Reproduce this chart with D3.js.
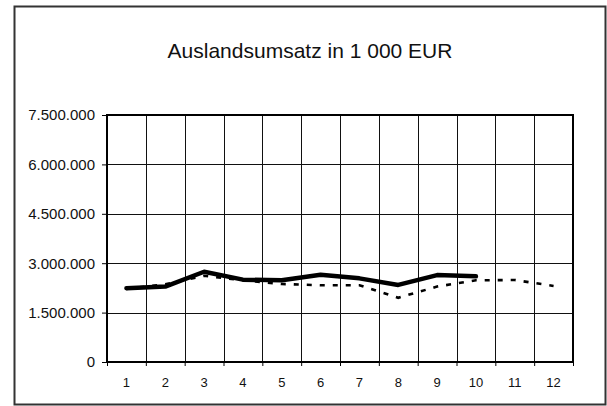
<!DOCTYPE html>
<html>
<head>
<meta charset="utf-8">
<script src="https://cdn.jsdelivr.net/npm/d3@7"></script>
<style>
  body { margin: 0; background: #fff; }
  svg { display: block; font-family: "Liberation Sans", Arial, sans-serif; }
</style>
</head>
<body>
<div id="chart"></div>
<script>
// data
var months = [1, 2, 3, 4, 5, 6, 7, 8, 9, 10, 11, 12];
var currentYear = [2240000, 2290000, 2740000, 2500000, 2480000, 2650000, 2540000, 2340000, 2640000, 2600000];
var previousYear = [2220000, 2360000, 2620000, 2480000, 2370000, 2330000, 2330000, 1950000, 2290000, 2480000, 2490000, 2310000];
var yTicks = [0, 1500000, 3000000, 4500000, 6000000, 7500000];
var title = 'Auslandsumsatz in 1 000 EUR';

var width = 607,
    height = 406,
    plotLeft = 107,
    plotRight = 573,
    plotTop = 115,
    plotBottom = 362;

var de = d3.formatLocale({decimal: ',', thousands: '.', grouping: [3], currency: ['', ' €']});
var fmt = de.format(',d');

var svg = d3.select('#chart').append('svg')
    .attr('width', width)
    .attr('height', height);

// outer frame
svg.append('rect')
    .attr('x', 14.5)
    .attr('y', 6.5)
    .attr('width', 591)
    .attr('height', 398)
    .attr('fill', 'none')
    .attr('stroke', '#333')
    .attr('stroke-width', 2);

svg.append('text')
    .attr('x', 310)
    .attr('y', 58)
    .attr('text-anchor', 'middle')
    .style('font-size', '21px')
    .attr('fill', '#111')
    .text(title);

var xScale = d3.scaleBand()
    .domain(months)
    .range([plotLeft, plotRight])
    .padding(0);

var yScale = d3.scaleLinear()
    .domain([0, 7500000])
    .range([plotBottom, plotTop]);

var bw = xScale.bandwidth();

// grid
var grid = svg.append('g');
grid.selectAll('.hgrid')
    .data(yTicks)
    .enter()
    .append('line')
    .attr('x1', plotLeft)
    .attr('x2', plotRight)
    .attr('y1', function(d) { return Math.round(yScale(d)) + 0.5; })
    .attr('y2', function(d) { return Math.round(yScale(d)) + 0.5; })
    .attr('stroke', '#111')
    .attr('stroke-width', 1);

grid.selectAll('.vgrid')
    .data(months.slice(1))
    .enter()
    .append('line')
    .attr('x1', function(d) { return Math.round(xScale(d)) + 0.5; })
    .attr('x2', function(d) { return Math.round(xScale(d)) + 0.5; })
    .attr('y1', plotTop)
    .attr('y2', plotBottom)
    .attr('stroke', '#111')
    .attr('stroke-width', 1);

// plot frame
svg.append('rect')
    .attr('x', plotLeft)
    .attr('y', plotTop)
    .attr('width', plotRight - plotLeft)
    .attr('height', plotBottom - plotTop)
    .attr('fill', 'none')
    .attr('stroke', '#000')
    .attr('stroke-width', 2);

// axes
var yAxis = d3.axisLeft(yScale)
    .tickValues(yTicks)
    .tickFormat(fmt)
    .tickSize(5)
    .tickPadding(7);

var yy = svg.append('g')
    .attr('transform', 'translate(' + plotLeft + ',0)')
    .call(yAxis);
yy.select('.domain').remove();
yy.selectAll('text')
    .style('font-size', '15px')
    .attr('fill', '#111');

var xAxis = d3.axisBottom(d3.scaleLinear().domain([0, 12]).range([plotLeft, plotRight]))
    .tickValues(d3.range(0, 13))
    .tickFormat('')
    .tickSize(4);

var xx = svg.append('g')
    .attr('transform', 'translate(0,' + plotBottom + ')')
    .call(xAxis);
xx.select('.domain').remove();

svg.append('g').selectAll('text')
    .data(months)
    .enter()
    .append('text')
    .attr('x', function(d) { return xScale(d) + bw / 2; })
    .attr('y', 387)
    .attr('text-anchor', 'middle')
    .style('font-size', '13px')
    .attr('fill', '#111')
    .text(function(d) { return d; });

// series
var line = d3.line()
    .x(function(d, i) { return xScale(months[i]) + bw / 2; })
    .y(function(d) { return yScale(d); });

svg.append('path')
    .datum(previousYear)
    .attr('d', line)
    .attr('fill', 'none')
    .attr('stroke', '#000')
    .attr('stroke-width', 2.6)
    .attr('stroke-dasharray', '5,8');

svg.append('path')
    .datum(currentYear)
    .attr('d', line)
    .attr('fill', 'none')
    .attr('stroke', '#000')
    .attr('stroke-width', 4.5)
    .attr('stroke-linejoin', 'round')
    .attr('stroke-linecap', 'round');
</script>
</body>
</html>
